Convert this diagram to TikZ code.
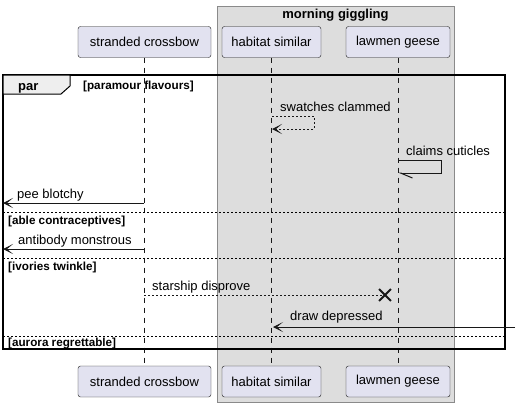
\documentclass[tikz,border=0pt]{standalone}
\usepackage{fontspec}
\setmainfont{Liberation Sans}
\usepackage{xcolor}
\usetikzlibrary{arrows.meta,positioning,calc,shapes.misc}
\definecolor{partfill}{HTML}{E2E2F0}
\definecolor{partline}{HTML}{181818}
\definecolor{boxfill}{HTML}{DDDDDD}
\definecolor{boxline}{HTML}{8A8A8A}
\definecolor{tabfill}{HTML}{EEEEEE}
\tikzset{
  part/.style={draw=partline, fill=partfill, rounded corners=2.5pt, minimum height=31pt, inner sep=0pt, font=\fontsize{13}{15}\selectfont},
  life/.style={draw=partline, dash pattern=on 5pt off 5pt, line width=0.5pt},
  msg/.style={-{Stealth[length=10pt,width=10pt,inset=6pt]}, line width=1pt, draw=partline},
  reply/.style={msg, dash pattern=on 2pt off 2pt},
  half/.style={-{Straight Barb[length=12pt,width=10pt,left]}, line width=1pt, draw=partline},
  lab/.style={font=\fontsize{13}{15}\selectfont, anchor=base west, inner sep=0pt},
  guard/.style={font=\bfseries\fontsize{11.7}{13}\selectfont, anchor=base west, inner sep=0pt},
  sep/.style={dash pattern=on 2pt off 2pt, line width=0.6pt},
}
\begin{document}
\begin{tikzpicture}[x=1pt, y=-1pt]
\useasboundingbox (0,0) rectangle (519,407);

% box
\draw[draw=boxline, fill=boxfill] (217,6) rectangle (454,402);
\node[font=\bfseries\fontsize{13}{15}\selectfont, anchor=base] (grp) at (335.5,18) {morning giggling};

% participants
\node[part, minimum width=133pt] (sc) at (144.5,42) {stranded crossbow};
\node[part, minimum width=99pt] (hs) at (271.5,42) {habitat similar};
\node[part, minimum width=104pt] (lg) at (398,42) {lawmen geese};
\node[part, minimum width=133pt] (scb) at (144.5,381.5) {stranded crossbow};
\node[part, minimum width=99pt] (hsb) at (271.5,381.5) {habitat similar};
\node[part, minimum width=104pt] (lgb) at (398,381.5) {lawmen geese};

\draw[life] (sc) -- (scb);
\draw[life] (hs) -- (hsb);
\draw[life] (lg) -- (lgb);

% par frame
\draw[line width=1.5pt] (3,75) rectangle (505,349);
\draw[line width=1pt, fill=tabfill] (3,75) -- (70,75) -- (70,86) -- (61,94) -- (3,94) -- cycle;
\node[font=\bfseries\fontsize{13}{15}\selectfont, anchor=base west, inner sep=0pt] (par) at (18,90) {par};
\node[guard] (g1) at (83,89) {[paramour flavours]};

% messages
\coordinate (hs1) at (272,116);
\coordinate (hs2) at (272,129);
\draw[reply] (hs1) -- ++(42,0) |- (hs2);
\node[lab] (m1) at (280,111) {swatches clammed};

\coordinate (lg1) at (398,160);
\coordinate (lg2) at (398,173);
\draw[half] (lg1) -- ++(43,0) |- (lg2);
\node[lab] (m2) at (406,155) {claims cuticles};

\coordinate (sc1) at (144,203);
\coordinate (out1) at (3,203);
\draw[msg] (sc1) -- (out1);
\node[lab] (m3) at (17,198) {pee blotchy};

\draw[sep] (3,212) -- (505,212);
\node[guard] (g2) at (8,224) {[able contraceptives]};

\coordinate (sc2) at (144,249);
\coordinate (out2) at (3,249);
\draw[msg] (sc2) -- (out2);
\node[lab] (m4) at (18,244) {antibody monstrous};

\draw[sep] (3,258) -- (505,258);
\node[guard] (g3) at (8,270) {[ivories twinkle]};

\coordinate (sc3) at (144,295);
\node[draw=partline, cross out, line width=1.8pt, minimum size=10pt, inner sep=0pt] (kill) at (385,295) {};
\draw[sep, draw=partline] (sc3) -- (kill.center);
\node[lab] (m5) at (152,290) {starship disprove};

\coordinate (in1) at (515,327);
\coordinate (hs3) at (273,327);
\draw[msg] (in1) -- (hs3);
\node[lab] (m6) at (290,320) {draw depressed};

\draw[sep] (3,336) -- (505,336);
\node[guard] (g4) at (8,346) {[aurora regrettable]};
\end{tikzpicture}
\end{document}
